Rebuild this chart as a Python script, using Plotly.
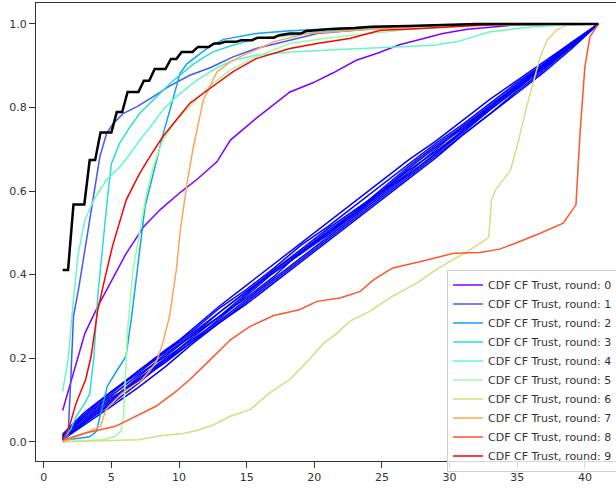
import plotly.graph_objects as go

# colours of the rounds (matplotlib "rainbow" colormap, 10 steps)
round_colors = ['#8000ff', '#4757fb', '#0ea4f0', '#2adddd', '#63fbc3',
                '#9cfba4', '#d4dd80', '#ffa457', '#ff572c', '#ff0000']

# CDF of CF trust per round
r0_x = [1.4, 2.2, 3.05, 4.0, 4.9, 6.1, 7.4, 8.6, 10.1, 11.3, 12.8, 13.3, 13.8, 15.7, 17.5, 18.2, 19.9,
        21.4, 23.1, 24.6, 26.3, 27.8, 29.5, 31.3, 33.2, 35.0, 41.0]
r0_y = [0.075, 0.165, 0.26, 0.324, 0.38, 0.451, 0.515, 0.555, 0.597, 0.627, 0.67, 0.695, 0.722, 0.774,
        0.818, 0.837, 0.859, 0.883, 0.913, 0.929, 0.95, 0.963, 0.977, 0.987, 0.993, 0.998, 1.0]

r1_x = [1.4, 1.8, 2.0, 2.2, 2.6, 3.0, 3.55, 4.15, 4.65, 5.15, 5.9, 6.9, 8.1, 9.3, 10.8, 12.3, 14.0,
        15.7, 18.2, 20.2, 22.4, 25.0, 30.0, 41.0]
r1_y = [0.005, 0.013, 0.15, 0.30, 0.37, 0.45, 0.571, 0.682, 0.738, 0.762, 0.786, 0.802, 0.826, 0.851,
        0.877, 0.895, 0.921, 0.941, 0.961, 0.977, 0.983, 0.99, 0.998, 1.0]

r2_x = [1.4, 2.5, 3.4, 3.9, 4.3, 4.7, 5.4, 6.08, 6.5, 6.87, 7.19, 7.49, 8.35, 8.84, 9.33, 10.07, 10.6,
        11.55, 12.3, 13.3, 15.7, 18.0, 22.0, 30.0, 41.0]
r2_y = [0.003, 0.008, 0.012, 0.025, 0.08, 0.133, 0.17, 0.204, 0.30, 0.395, 0.49, 0.563, 0.674, 0.738,
        0.794, 0.881, 0.905, 0.929, 0.947, 0.963, 0.977, 0.983, 0.99, 0.998, 1.0]

r3_x = [1.4, 2.0, 2.4, 3.0, 3.4, 3.7, 4.0, 4.4, 4.7, 5.0, 5.6, 6.4, 7.1, 8.35, 9.6, 11.1, 12.5, 13.8,
        15.7, 18.2, 20.7, 25.0, 30.0, 41.0]
r3_y = [0.005, 0.03, 0.061, 0.09, 0.115, 0.2, 0.35, 0.49, 0.58, 0.665, 0.714, 0.754, 0.786, 0.826,
        0.865, 0.905, 0.933, 0.947, 0.965, 0.973, 0.981, 0.992, 0.998, 1.0]

r4_x = [1.4, 1.8, 2.2, 2.55, 3.05, 3.7, 4.65, 5.65, 6.4, 7.1, 7.9, 8.8, 9.8, 11.3, 12.8, 14.0, 15.7,
        18.2, 21.9, 25.6, 28.8, 30.5, 31.75, 33.0, 34.5, 36.2, 38.5, 41.0]
r4_y = [0.12, 0.196, 0.34, 0.451, 0.531, 0.579, 0.627, 0.658, 0.69, 0.722, 0.754, 0.794, 0.826, 0.865,
        0.895, 0.913, 0.925, 0.933, 0.939, 0.945, 0.949, 0.957, 0.969, 0.981, 0.987, 0.993, 0.998, 1.0]

r5_x = [1.4, 4.4, 5.3, 5.7, 5.9, 6.2, 6.6, 7.1, 7.6, 8.1, 8.8, 9.8, 10.8, 12.05, 13.8, 15.7, 18.2,
        20.7, 23.5, 27.1, 32.0, 41.0]
r5_y = [0.0, 0.005, 0.013, 0.025, 0.061, 0.268, 0.411, 0.50, 0.595, 0.658, 0.722, 0.77, 0.802, 0.845,
        0.89, 0.921, 0.953, 0.965, 0.975, 0.987, 0.997, 1.0]

r6_x = [1.4, 7.0, 8.8, 10.3, 11.3, 12.3, 13.8, 15.25, 16.7, 18.2, 19.4, 20.7, 21.7, 22.6, 24.1, 25.6,
        27.6, 28.8, 30.0, 31.3, 32.25, 32.9, 33.1, 33.4, 34.5, 35.1, 35.7, 36.2, 36.7, 37.2, 37.9,
        38.65, 41.0]
r6_y = [0.0, 0.005, 0.015, 0.02, 0.027, 0.037, 0.061, 0.077, 0.117, 0.149, 0.189, 0.236, 0.26, 0.288,
        0.312, 0.345, 0.38, 0.407, 0.431, 0.455, 0.475, 0.49, 0.579, 0.603, 0.65, 0.722, 0.802, 0.865,
        0.921, 0.961, 0.985, 0.997, 1.0]

r7_x = [1.4, 3.1, 4.2, 4.6, 5.8, 7.3, 8.3, 8.8, 9.3, 9.8, 10.1, 10.6, 11.06, 11.8, 12.8, 13.8, 14.5,
        17.0, 19.4, 23.1, 30.0, 41.0]
r7_y = [0.0, 0.021, 0.037, 0.077, 0.117, 0.149, 0.189, 0.236, 0.30, 0.411, 0.507, 0.62, 0.706, 0.818,
        0.885, 0.909, 0.921, 0.957, 0.977, 0.985, 0.998, 1.0]

r8_x = [1.4, 3.1, 5.3, 6.8, 8.3, 9.8, 10.8, 12.3, 13.8, 15.25, 17.0, 18.9, 20.2, 21.9, 23.4, 24.4,
        25.8, 27.8, 29.3, 30.3, 32.25, 33.7, 35.0, 36.7, 38.4, 39.0, 39.34, 39.64, 40.0, 40.37, 41.0]
r8_y = [0.004, 0.021, 0.037, 0.061, 0.085, 0.121, 0.149, 0.196, 0.244, 0.276, 0.302, 0.316, 0.336,
        0.344, 0.36, 0.388, 0.416, 0.431, 0.443, 0.451, 0.453, 0.461, 0.477, 0.499, 0.523, 0.551,
        0.567, 0.738, 0.897, 0.969, 1.0]

r9_x = [1.4, 1.9, 2.4, 3.1, 3.5, 4.0, 4.5, 5.1, 6.1, 7.1, 8.0, 8.8, 9.8, 10.8, 11.8, 12.8, 14.0, 15.7,
        18.2, 20.2, 22.6, 24.9, 27.1, 33.0, 41.0]
r9_y = [0.004, 0.037, 0.093, 0.149, 0.204, 0.316, 0.388, 0.47, 0.579, 0.643, 0.69, 0.73, 0.77, 0.81,
        0.834, 0.858, 0.886, 0.917, 0.941, 0.953, 0.965, 0.985, 0.988, 0.998, 1.0]

rounds_x = [r0_x, r1_x, r2_x, r3_x, r4_x, r5_x, r6_x, r7_x, r8_x, r9_x]
rounds_y = [r0_y, r1_y, r2_y, r3_y, r4_y, r5_y, r6_y, r7_y, r8_y, r9_y]

# blue reference curves (nearly uniform)
blue_x = [1.4, 3, 5, 7, 9, 11, 13, 15, 17, 19, 21, 23, 25, 27, 29, 31, 33, 35, 37, 39, 41]
blue_ys = [
    [0.01, 0.06, 0.115, 0.17, 0.22, 0.265, 0.32, 0.365, 0.415, 0.47, 0.515, 0.565, 0.615, 0.665, 0.715,
     0.76, 0.81, 0.86, 0.905, 0.955, 1.0],
    [0.005, 0.04, 0.085, 0.13, 0.18, 0.235, 0.285, 0.33, 0.38, 0.43, 0.48, 0.53, 0.58, 0.63, 0.68,
     0.735, 0.785, 0.835, 0.885, 0.94, 1.0],
    [0.015, 0.065, 0.12, 0.165, 0.215, 0.27, 0.325, 0.375, 0.425, 0.475, 0.525, 0.575, 0.625, 0.675,
     0.72, 0.77, 0.82, 0.865, 0.91, 0.955, 1.0],
    [0.008, 0.05, 0.1, 0.155, 0.21, 0.255, 0.3, 0.345, 0.395, 0.455, 0.505, 0.55, 0.6, 0.655, 0.705,
     0.75, 0.8, 0.855, 0.905, 0.95, 1.0],
    [0.012, 0.055, 0.105, 0.145, 0.19, 0.24, 0.295, 0.35, 0.405, 0.45, 0.495, 0.545, 0.6, 0.65, 0.695,
     0.745, 0.8, 0.85, 0.895, 0.945, 1.0],
    [0.01, 0.045, 0.09, 0.14, 0.195, 0.25, 0.3, 0.355, 0.41, 0.46, 0.51, 0.555, 0.6, 0.64, 0.69, 0.74,
     0.795, 0.845, 0.895, 0.95, 1.0],
    [0.005, 0.045, 0.095, 0.15, 0.2, 0.245, 0.29, 0.34, 0.39, 0.44, 0.49, 0.54, 0.59, 0.64, 0.69, 0.745,
     0.795, 0.845, 0.9, 0.95, 1.0],
    [0.018, 0.07, 0.12, 0.17, 0.215, 0.26, 0.31, 0.36, 0.41, 0.455, 0.5, 0.55, 0.605, 0.66, 0.71, 0.755,
     0.8, 0.85, 0.9, 0.95, 1.0],
    [0.006, 0.05, 0.1, 0.15, 0.195, 0.24, 0.285, 0.335, 0.385, 0.435, 0.485, 0.535, 0.585, 0.635, 0.685,
     0.735, 0.785, 0.84, 0.89, 0.945, 1.0],
    [0.014, 0.06, 0.11, 0.16, 0.205, 0.255, 0.31, 0.36, 0.405, 0.45, 0.5, 0.545, 0.595, 0.645, 0.7,
     0.755, 0.805, 0.855, 0.9, 0.95, 1.0],
]

# black step curve
black_x = [1.4, 1.8, 2.2, 2.6, 3.0, 3.4, 3.8, 4.2, 4.6, 5.0, 5.4, 5.8, 6.2, 6.6, 7.0, 7.4, 7.8, 8.2,
           8.6, 9.0, 9.4, 9.8, 10.2, 10.6, 11.0, 11.4, 12.2, 12.6, 13.0, 13.4, 14.2, 14.6, 15.4, 15.8,
           17.0, 17.4, 18.2, 19.0, 19.4, 20.2, 21.0, 23.0, 24.2, 27.0, 30.2, 32.0, 41.0]
black_y = [0.411, 0.411, 0.568, 0.568, 0.568, 0.674, 0.674, 0.74, 0.74, 0.74, 0.789, 0.789, 0.837,
           0.837, 0.837, 0.864, 0.864, 0.892, 0.892, 0.892, 0.916, 0.916, 0.933, 0.933, 0.933, 0.945,
           0.945, 0.953, 0.953, 0.957, 0.957, 0.961, 0.961, 0.967, 0.967, 0.973, 0.977, 0.977, 0.983,
           0.985, 0.987, 0.99, 0.993, 0.995, 0.998, 1.0, 1.0]

fig = go.Figure()

for by in blue_ys:
    fig.add_trace(go.Scatter(x=blue_x, y=by, mode='lines', showlegend=False,
                             line=dict(color='#0000ff', width=1.5)))

for i in range(10):
    fig.add_trace(go.Scatter(x=rounds_x[i], y=rounds_y[i], mode='lines',
                             name='CDF CF Trust, round: %d' % i,
                             line=dict(color=round_colors[i], width=1.5)))

fig.add_trace(go.Scatter(x=black_x, y=black_y, mode='lines', showlegend=False,
                         line=dict(color='black', width=2.5)))

axis_common = dict(showline=True, linecolor='#333333', linewidth=1.25, ticks='outside',
                   ticklen=6, tickwidth=1.25, tickcolor='#333333', showgrid=False,
                   zeroline=False, tickfont=dict(size=11, color='#333333'))

fig.update_layout(
    width=616, height=491,
    margin=dict(l=36, r=0, t=3, b=30, autoexpand=False),
    paper_bgcolor='white', plot_bgcolor='white',
    font=dict(family='DejaVu Sans', color='#333333'),
    xaxis=dict(range=[-0.57, 42.3], tickvals=[0, 5, 10, 15, 20, 25, 30, 35, 40],
               mirror=True, **axis_common),
    yaxis=dict(range=[-0.046, 1.05], tickvals=[0, 0.2, 0.4, 0.6, 0.8, 1.0], tickformat='.1f',
               **axis_common),
    legend=dict(x=0.7086, y=0.418, xanchor='left', yanchor='top',
                bgcolor='rgba(255,255,255,0.8)', bordercolor='#cccccc', borderwidth=1,
                font=dict(size=11, color='#333333')),
)

# page has a default 8px body margin; remove it so the figure sits at the window corner
fig.write_html("out.html", config={'displayModeBar': False},
               post_script="document.body.style.margin='0px';")
